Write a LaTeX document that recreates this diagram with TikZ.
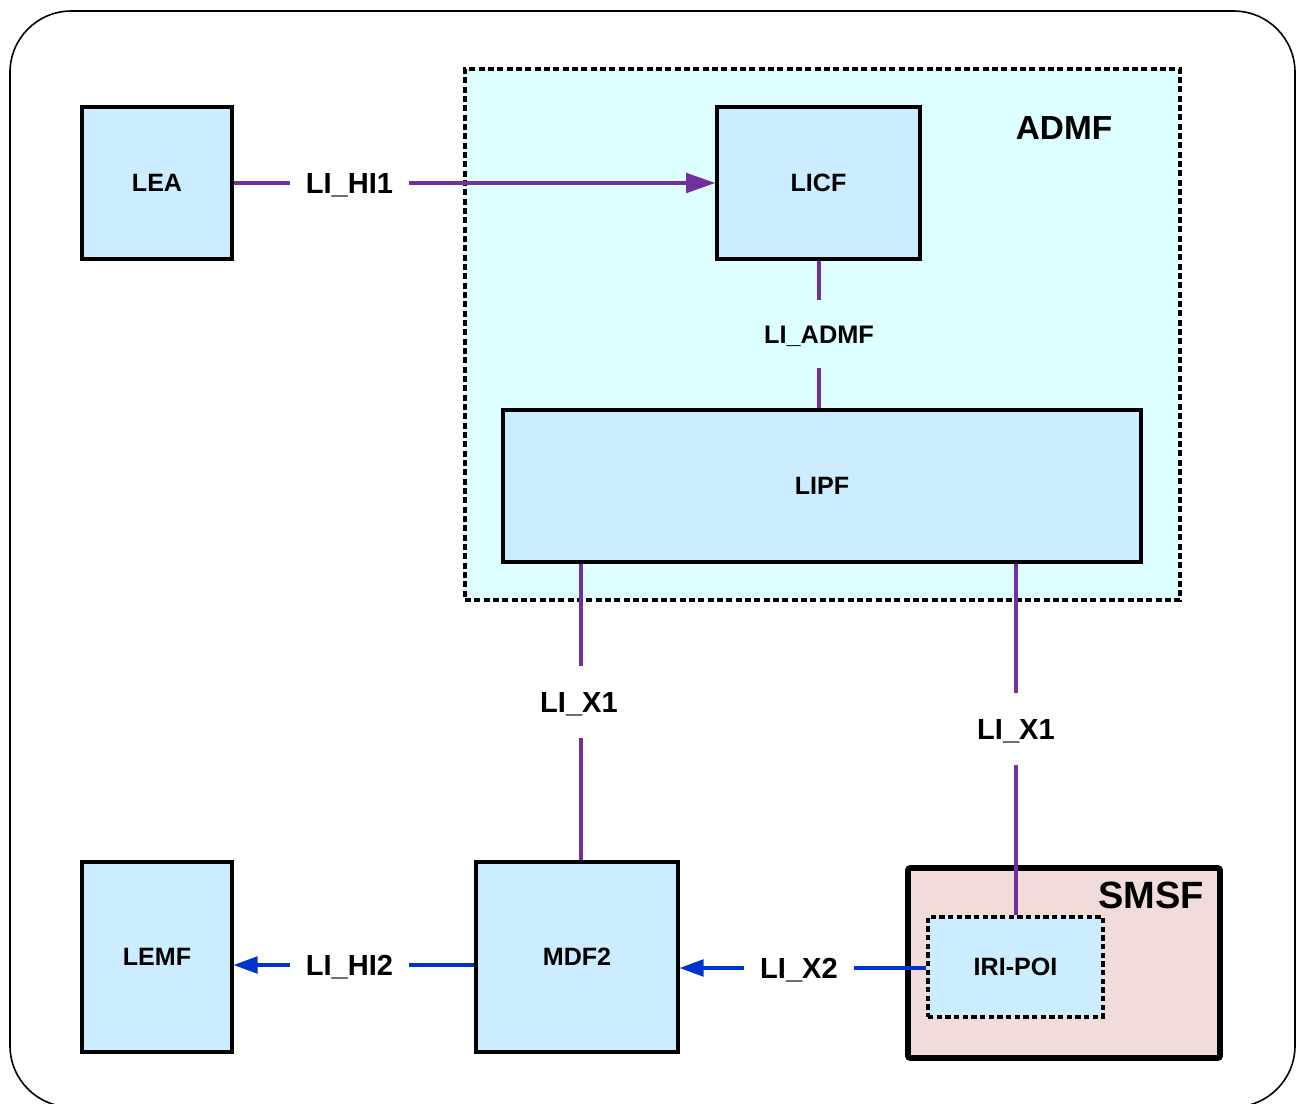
\documentclass[tikz,border=0pt]{standalone}
\usepackage{fontspec}
\setmainfont{Liberation Sans}
\usetikzlibrary{arrows.meta,calc}
\definecolor{lipurple}{HTML}{7030A0}
\definecolor{liblue}{HTML}{0033CC}
\definecolor{boxfill}{HTML}{CCECFF}
\definecolor{admffill}{HTML}{DDFFFF}
\definecolor{smsffill}{HTML}{F2DCDB}
\tikzset{
  fbox/.style={draw=black, line width=2.3pt, fill=boxfill, inner sep=0pt,
    font=\fontsize{18.8}{22}\selectfont\bfseries},
  lbl/.style={inner sep=0pt, text height=15.6pt, text depth=0pt,
    font=\fontsize{21.8}{25}\selectfont\bfseries},
  hlbl/.style={lbl, inner xsep=16*0.75pt},
  vlbl/.style={lbl, inner ysep=25*0.75pt},
  purpleline/.style={draw=lipurple, line width=3.1pt},
  blueline/.style={draw=liblue, line width=2.4pt},
  ptip/.style={-{Triangle[length=22pt,width=14.5pt]}},
  btip/.style={-{Triangle[length=18pt,width=12.5pt]}},
  title/.style={inner sep=0pt, text depth=0pt},
}
\begin{document}
\begin{tikzpicture}[x=0.75pt,y=-0.75pt]
\useasboundingbox (0,0) rectangle (1297,1104);
% outer frame
\draw[line width=1.2pt, rounded corners=46pt] (10,11) rectangle (1295,1107);
% ADMF area
\node[draw=black, line width=2.4pt, dash pattern=on 4.5pt off 2.5pt, fill=admffill,
  minimum width=536.25pt, minimum height=398.25pt, inner sep=0pt] (admf) at (822.5,334.5) {};
\node[title, text height=18pt, font=\fontsize{25}{28}\selectfont\bfseries] (admft) at (1064,127) {ADMF};
% SMSF
\node[draw=black, line width=4.2pt, fill=smsffill, rounded corners=1.5pt,
  minimum width=234pt, minimum height=142.5pt, inner sep=0pt] (smsf) at (1064,963) {};
\node[title, text height=20.5pt, font=\fontsize{28.5}{32}\selectfont\bfseries] (smsft) at (1151,895) {SMSF};
% boxes
\node[fbox, minimum width=112.5pt, minimum height=114pt] (lea) at (157,183) {LEA};
\node[fbox, minimum width=152.25pt, minimum height=114pt] (licf) at (818.5,183) {LICF};
\node[fbox, minimum width=478.5pt, minimum height=114pt] (lipf) at (822,486) {LIPF};
\node[fbox, minimum width=112.5pt, minimum height=142.5pt] (lemf) at (157,957) {LEMF};
\node[fbox, minimum width=151.5pt, minimum height=142.5pt] (mdf) at (577,957) {MDF2};
\node[fbox, line width=2.4pt, dash pattern=on 4pt off 2.5pt, minimum width=131.25pt, minimum height=75pt] (iri) at (1015.5,967) {IRI-POI};
% labels
\node[hlbl] (hi1) at (349.5,183) {LI\_HI1};
\node[vlbl, text height=13.7pt, font=\fontsize{19}{22}\selectfont\bfseries] (ladmf) at (819,334) {LI\_ADMF};
\node[vlbl] (x1a) at (579,702) {LI\_X1};
\node[vlbl] (x1b) at (1016,729) {LI\_X1};
\node[hlbl] (hi2) at (349.5,965) {LI\_HI2};
\node[hlbl] (x2) at (799,968) {LI\_X2};
% purple connectors
\draw[purpleline] (lea.east) -- (hi1.west);
\draw[purpleline, ptip] (hi1.east) -- (licf.west);
\draw[purpleline] (ladmf |- licf.south) -- (ladmf.north);
\draw[purpleline] (ladmf.south) -- (ladmf |- lipf.north);
\draw[purpleline] ([xshift=1.5pt]x1a.north |- lipf.south) -- ([xshift=1.5pt]x1a.north);
\draw[purpleline] ([xshift=1.5pt]x1a.south) -- ([xshift=1.5pt]x1a.south |- mdf.north);
\draw[purpleline] (x1b |- lipf.south) -- (x1b.north);
\draw[purpleline] (x1b.south) -- (x1b |- iri.north);
% blue connectors
\draw[blueline] (mdf.west |- hi2) -- (hi2.east);
\draw[blueline, btip] (hi2.west) -- (lemf.east |- hi2);
\draw[blueline] (iri.west |- x2) -- (x2.east);
\draw[blueline, btip] (x2.west) -- (mdf.east |- x2);
\end{tikzpicture}
\end{document}
